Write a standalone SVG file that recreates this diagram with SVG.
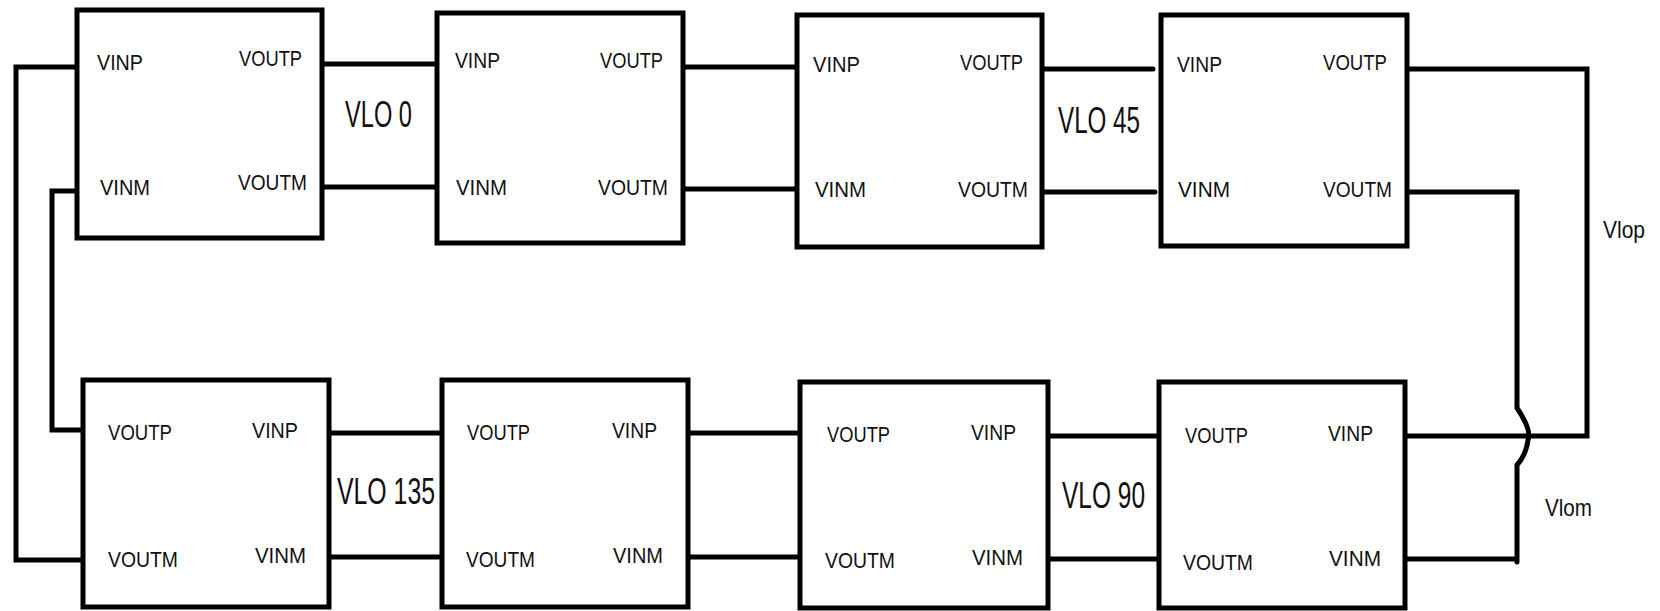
<svg xmlns="http://www.w3.org/2000/svg" width="1660" height="611" viewBox="0 0 1660 611">
<style>
.box{fill:#fff;stroke:#000;stroke-width:5}
.w{fill:none;stroke:#000;stroke-width:5;stroke-linecap:round;stroke-linejoin:miter}
.p{font-family:"Liberation Sans",Arial,sans-serif;font-size:22px;fill:#111}
.big{font-family:"Liberation Sans",Arial,sans-serif;font-size:36px;fill:#111}
.n{font-family:"Liberation Sans",Arial,sans-serif;font-size:24px;fill:#111}
</style>
<rect width="1660" height="611" fill="#fff"/>
<g id="connectors">
<polyline class="w" points="77,67 16,67 16,560 83,560"/>
<polyline class="w" points="77,191 52,191 52,430 83,430"/>
<line class="w" x1="322" y1="64" x2="435" y2="64"/>
<line class="w" x1="322" y1="187" x2="435" y2="187"/>
<line class="w" x1="683" y1="67" x2="795" y2="67"/>
<line class="w" x1="683" y1="189" x2="795" y2="189"/>
<line class="w" x1="1042" y1="69" x2="1153" y2="69"/>
<line class="w" x1="1042" y1="192" x2="1155" y2="192"/>
<polyline class="w" points="1407,69 1587,69 1587,436 1405,436"/>
<path class="w" d="M1407,192 L1517,192 L1517,408 Q1532,430 1528,440 Q1526,455 1517,465 L1517,562 M1517,559 L1405,559"/>
<line class="w" x1="329" y1="433" x2="442" y2="433"/>
<line class="w" x1="329" y1="557" x2="442" y2="557"/>
<line class="w" x1="688" y1="433" x2="797" y2="433"/>
<line class="w" x1="688" y1="557" x2="797" y2="557"/>
<line class="w" x1="1048" y1="436" x2="1158" y2="436"/>
<line class="w" x1="1048" y1="559" x2="1158" y2="559"/>
<text class="big" x="345" y="127" textLength="67" lengthAdjust="spacingAndGlyphs">VLO 0</text>
<text class="big" x="1058" y="133" textLength="82" lengthAdjust="spacingAndGlyphs">VLO 45</text>
<text class="big" x="337" y="504" textLength="98" lengthAdjust="spacingAndGlyphs">VLO 135</text>
<text class="big" x="1062" y="508" textLength="83" lengthAdjust="spacingAndGlyphs">VLO 90</text>
<text class="n" x="1603" y="238" textLength="42" lengthAdjust="spacingAndGlyphs">Vlop</text>
<text class="n" x="1545" y="516" textLength="47" lengthAdjust="spacingAndGlyphs">Vlom</text>
</g>
<g id="n1">
<rect class="box" x="77" y="10" width="245" height="228"/>
<text class="p" x="97" y="70" textLength="46" lengthAdjust="spacingAndGlyphs">VINP</text>
<text class="p" x="239" y="66" textLength="63" lengthAdjust="spacingAndGlyphs">VOUTP</text>
<text class="p" x="100" y="195" textLength="50" lengthAdjust="spacingAndGlyphs">VINM</text>
<text class="p" x="238" y="190" textLength="69" lengthAdjust="spacingAndGlyphs">VOUTM</text>
</g>
<g id="n2">
<rect class="box" x="437" y="13" width="246" height="230"/>
<text class="p" x="455" y="68" textLength="45" lengthAdjust="spacingAndGlyphs">VINP</text>
<text class="p" x="600" y="68" textLength="63" lengthAdjust="spacingAndGlyphs">VOUTP</text>
<text class="p" x="456" y="195" textLength="51" lengthAdjust="spacingAndGlyphs">VINM</text>
<text class="p" x="598" y="195" textLength="70" lengthAdjust="spacingAndGlyphs">VOUTM</text>
</g>
<g id="n3">
<rect class="box" x="797" y="15" width="245" height="232"/>
<text class="p" x="813" y="72" textLength="47" lengthAdjust="spacingAndGlyphs">VINP</text>
<text class="p" x="960" y="70" textLength="63" lengthAdjust="spacingAndGlyphs">VOUTP</text>
<text class="p" x="815" y="197" textLength="51" lengthAdjust="spacingAndGlyphs">VINM</text>
<text class="p" x="958" y="197" textLength="70" lengthAdjust="spacingAndGlyphs">VOUTM</text>
</g>
<g id="n4">
<rect class="box" x="1161" y="15" width="246" height="231"/>
<text class="p" x="1177" y="72" textLength="45" lengthAdjust="spacingAndGlyphs">VINP</text>
<text class="p" x="1323" y="70" textLength="64" lengthAdjust="spacingAndGlyphs">VOUTP</text>
<text class="p" x="1178" y="197" textLength="52" lengthAdjust="spacingAndGlyphs">VINM</text>
<text class="p" x="1323" y="197" textLength="69" lengthAdjust="spacingAndGlyphs">VOUTM</text>
</g>
<g id="n5">
<rect class="box" x="83" y="380" width="246" height="227"/>
<text class="p" x="108" y="440" textLength="64" lengthAdjust="spacingAndGlyphs">VOUTP</text>
<text class="p" x="252" y="438" textLength="46" lengthAdjust="spacingAndGlyphs">VINP</text>
<text class="p" x="108" y="567" textLength="70" lengthAdjust="spacingAndGlyphs">VOUTM</text>
<text class="p" x="255" y="563" textLength="51" lengthAdjust="spacingAndGlyphs">VINM</text>
</g>
<g id="n6">
<rect class="box" x="442" y="380" width="246" height="227"/>
<text class="p" x="467" y="440" textLength="63" lengthAdjust="spacingAndGlyphs">VOUTP</text>
<text class="p" x="612" y="438" textLength="45" lengthAdjust="spacingAndGlyphs">VINP</text>
<text class="p" x="466" y="567" textLength="69" lengthAdjust="spacingAndGlyphs">VOUTM</text>
<text class="p" x="613" y="563" textLength="50" lengthAdjust="spacingAndGlyphs">VINM</text>
</g>
<g id="n7">
<rect class="box" x="800" y="382" width="248" height="226"/>
<text class="p" x="827" y="442" textLength="63" lengthAdjust="spacingAndGlyphs">VOUTP</text>
<text class="p" x="971" y="440" textLength="45" lengthAdjust="spacingAndGlyphs">VINP</text>
<text class="p" x="825" y="568" textLength="70" lengthAdjust="spacingAndGlyphs">VOUTM</text>
<text class="p" x="972" y="565" textLength="51" lengthAdjust="spacingAndGlyphs">VINM</text>
</g>
<g id="n8">
<rect class="box" x="1159" y="382" width="246" height="226"/>
<text class="p" x="1185" y="443" textLength="63" lengthAdjust="spacingAndGlyphs">VOUTP</text>
<text class="p" x="1328" y="441" textLength="45" lengthAdjust="spacingAndGlyphs">VINP</text>
<text class="p" x="1183" y="570" textLength="70" lengthAdjust="spacingAndGlyphs">VOUTM</text>
<text class="p" x="1329" y="566" textLength="52" lengthAdjust="spacingAndGlyphs">VINM</text>
</g>
</svg>
